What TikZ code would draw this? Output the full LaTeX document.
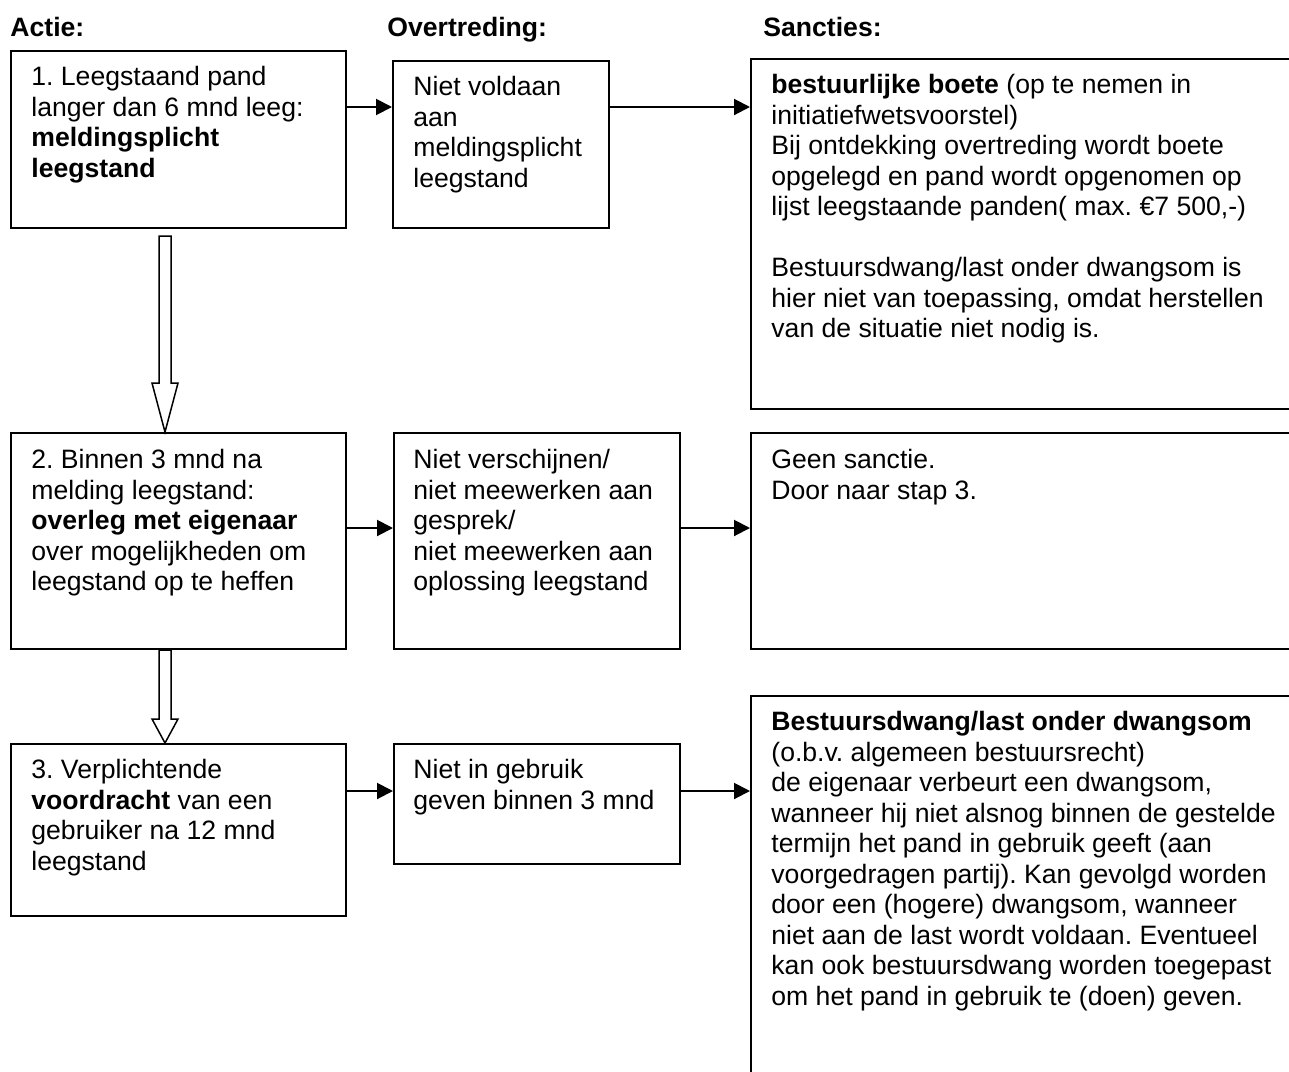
\documentclass[tikz,border=0pt]{standalone}
\usepackage{fontspec}
\setmainfont{Liberation Sans}
\usetikzlibrary{calc, arrows.meta}
\frenchspacing

\tikzset{
  vak/.style={draw, line width=1pt, anchor=north west, inner sep=0pt},
  tekst/.style={anchor=north west, inner sep=0pt, align=left,
    font=\fontsize{13.3}{15.25}\selectfont},
  kop/.style={anchor=base west, inner sep=0pt,
    font=\fontsize{13.3}{15.25}\selectfont\bfseries},
  pijl/.style={line width=1pt, -{Triangle[length=8pt, width=8pt]}},
  blok/.style={line width=0.75pt, line join=miter}
}

% hollow block arrow: start, tip, head length
\newcommand{\blokpijl}[3]{%
  \draw[blok] ($(#1)+(-6,0)$) -- ($(#2)+(-6,-#3)$) -- ($(#2)+(-13,-#3)$)
    -- (#2) -- ($(#2)+(13,-#3)$) -- ($(#2)+(6,-#3)$) -- ($(#1)+(6,0)$) -- cycle;}

\begin{document}
\begin{tikzpicture}[x=0.5pt, y=-0.5pt]
  \clip (0,0) rectangle (1289,1071);

  % column headers
  \node[kop] (kopactie) at (10,36) {Actie:};
  \node[kop] (kopovt) at (387,36) {Overtreding:};
  \node[kop] (kopsan) at (763,36) {Sancties:};

  % row 1
  \node[vak, minimum width=167.5pt, minimum height=88.5pt] (act1) at (10,50) {};
  \node[vak, minimum width=108pt, minimum height=83.5pt] (ovt1) at (392,60) {};
  \node[vak, minimum width=325pt, minimum height=175pt] (san1) at (750,58) {};
  \node[tekst] (act1t) at ($(act1.north west)+(21,16)$)
    {1. Leegstaand pand\\langer dan 6 mnd leeg:\\\textbf{meldingsplicht}\\\textbf{leegstand}};
  \node[tekst] (ovt1t) at ($(ovt1.north west)+(21,16)$)
    {Niet voldaan\\aan\\meldingsplicht\\leegstand};
  \node[tekst] (san1t) at ($(san1.north west)+(21,16)$)
    {\textbf{bestuurlijke boete} (op te nemen in\\initiatiefwetsvoorstel)\\
     Bij ontdekking overtreding wordt boete\\opgelegd en pand wordt opgenomen op\\
     lijst leegstaande panden( max. €7 500,-)\\[15.25pt]
     Bestuursdwang/last onder dwangsom is\\hier niet van toepassing, omdat herstellen\\
     van de situatie niet nodig is.};

  % row 2
  \node[vak, minimum width=167.5pt, minimum height=108pt] (act2) at (10,432) {};
  \node[vak, minimum width=143pt, minimum height=108pt] (ovt2) at (393,432) {};
  \node[vak, minimum width=325pt, minimum height=108pt] (san2) at (750,432) {};
  \node[tekst] (act2t) at ($(act2.north west)+(21,17)$)
    {2. Binnen 3 mnd na\\melding leegstand:\\\textbf{overleg met eigenaar}\\
     over mogelijkheden om\\leegstand op te heffen};
  \node[tekst] (ovt2t) at ($(ovt2.north west)+(20,17)$)
    {Niet verschijnen/\\niet meewerken aan\\gesprek/\\niet meewerken aan\\oplossing leegstand};
  \node[tekst] (san2t) at ($(san2.north west)+(21,17)$)
    {Geen sanctie.\\Door naar stap 3.};

  % row 3
  \node[vak, minimum width=167.5pt, minimum height=86pt] (act3) at (10,743) {};
  \node[vak, minimum width=143pt, minimum height=60pt] (ovt3) at (393,743) {};
  \node[vak, minimum width=325pt, minimum height=252.5pt] (san3) at (750,695) {};
  \node[tekst] (act3t) at ($(act3.north west)+(21,16)$)
    {3. Verplichtende\\\textbf{voordracht} van een\\gebruiker na 12 mnd\\leegstand};
  \node[tekst] (ovt3t) at ($(ovt3.north west)+(20,16)$)
    {Niet in gebruik\\geven binnen 3 mnd};
  \node[tekst] (san3t) at ($(san3.north west)+(21,16)$)
    {\textbf{Bestuursdwang/last onder dwangsom}\\(o.b.v. algemeen bestuursrecht)\\
     de eigenaar verbeurt een dwangsom,\\wanneer hij niet alsnog binnen de gestelde\\
     termijn het pand in gebruik geeft (aan\\voorgedragen partij). Kan gevolgd worden\\
     door een (hogere) dwangsom, wanneer\\niet aan de last wordt voldaan. Eventueel\\
     kan ook bestuursdwang worden toegepast\\om het pand in gebruik te (doen) geven.};

  % arrow heights
  \coordinate (r1) at (0,107);
  \coordinate (r2) at (0,528);
  \coordinate (r3) at (0,791);
  \draw[pijl] (act1.east |- r1) -- (ovt1.west |- r1);
  \draw[pijl] (ovt1.east |- r1) -- (san1.west |- r1);
  \draw[pijl] (act2.east |- r2) -- (ovt2.west |- r2);
  \draw[pijl] (ovt2.east |- r2) -- (san2.west |- r2);
  \draw[pijl] (act3.east |- r3) -- (ovt3.west |- r3);
  \draw[pijl] (ovt3.east |- r3) -- (san3.west |- r3);

  % block arrows between the steps
  \coordinate (p1) at (165,236);
  \coordinate (p2) at (p1 |- act2.south);
  \blokpijl{p1}{p1 |- act2.north}{49}
  \blokpijl{p2}{p1 |- act3.north}{24}
\end{tikzpicture}
\end{document}
